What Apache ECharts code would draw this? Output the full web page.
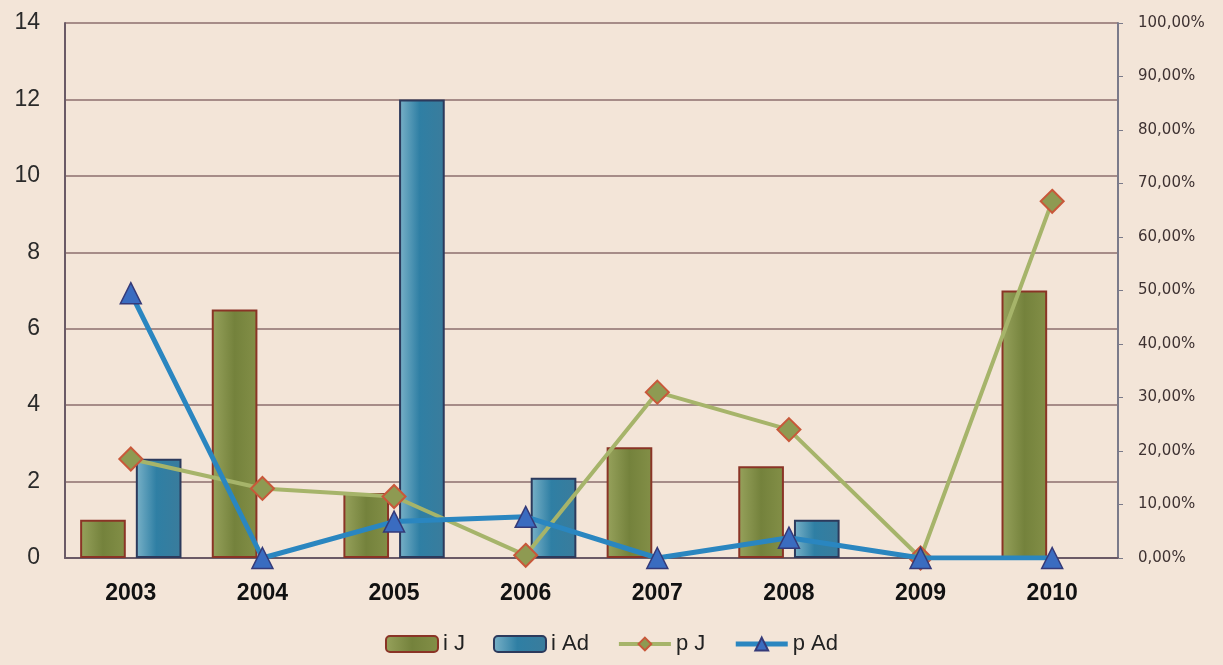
<!DOCTYPE html>
<html>
<head>
<meta charset="utf-8">
<title>i J / i Ad / p J / p Ad</title>
<script src="https://cdn.jsdelivr.net/npm/echarts@6/dist/echarts.min.js"></script>
<style>
  html, body { margin: 0; padding: 0; background: #f3e5d8; }
  #chart { width: 1223px; height: 665px; }
</style>
</head>
<body>
<div id="chart"></div>
<script>
// Years on the category axis
const years = ['2003', '2004', '2005', '2006', '2007', '2008', '2009', '2010'];

// Counts (left axis); null = no bar for that year
const iJ  = [1, 6.5, 1.7, null, 2.9, 2.4, null, 7];
const iAd = [2.6, null, 12, 2.1, null, 1, null, null];

// Shares (right axis, 0..1)
const pJ  = [0.185, 0.13, 0.115, 0.005, 0.31, 0.24, 0.0, 0.6667];
const pAd = [0.495, 0.0, 0.068, 0.077, 0.0, 0.038, 0.0, 0.0];

// Left axis ticks 0..14 step 2, right axis 0%..100% step 10%
const leftMax = 14, leftStep = 2;
const rightMax = 1, rightStep = 0.1;

const chart = echarts.init(document.getElementById('chart'));

const greenFill = new echarts.graphic.LinearGradient(0, 0, 1, 0, [
  { offset: 0, color: '#97a25c' },
  { offset: 0.5, color: '#74823c' },
  { offset: 1, color: '#838f47' }
]);
const blueFill = new echarts.graphic.LinearGradient(0, 0, 1, 0, [
  { offset: 0, color: '#7ab2c8' },
  { offset: 0.45, color: '#2f7fa4' },
  { offset: 1, color: '#3a7c9c' }
]);

chart.setOption({
  backgroundColor: '#f3e5d8',
  animation: false,
  grid: { left: 65, right: 105, top: 23, bottom: 107 },
  legend: {
    bottom: 5,
    left: 'center',
    itemWidth: 52,
    itemHeight: 16,
    itemGap: 28,
    textStyle: { fontFamily: 'Liberation Sans, Arial, sans-serif', fontSize: 22, color: '#222' },
    data: [
      { name: 'i J' },
      { name: 'i Ad' },
      { name: 'p J', lineStyle: { width: 4 } },
      { name: 'p Ad', lineStyle: { width: 5 } }
    ]
  },
  xAxis: {
    type: 'category',
    data: years,
    axisLine: { show: true, lineStyle: { color: '#6a5a66', width: 2 } },
    axisTick: { show: false },
    axisLabel: {
      margin: 24,
      fontFamily: 'Liberation Sans, Arial, sans-serif',
      fontSize: 23,
      fontWeight: 'bold',
      color: '#111'
    }
  },
  yAxis: [
    {
      type: 'value',
      min: 0,
      max: leftMax,
      interval: leftStep,
      axisLine: { show: true, lineStyle: { color: '#6a5a66', width: 2 } },
      axisTick: { show: false },
      splitLine: { show: true, lineStyle: { color: '#8c6e6e', width: 1.5 } },
      axisLabel: {
        margin: 25,
        fontFamily: 'Liberation Sans, Arial, sans-serif',
        fontSize: 23,
        color: '#2a2a2a'
      }
    },
    {
      type: 'value',
      min: 0,
      max: rightMax,
      interval: rightStep,
      position: 'right',
      axisLine: { show: true, lineStyle: { color: '#7a7a8a', width: 2 } },
      axisTick: { show: true, length: 5, lineStyle: { color: '#7a7a8a' } },
      splitLine: { show: false },
      axisLabel: {
        margin: 20,
        fontFamily: 'DejaVu Sans, Verdana, sans-serif',
        fontSize: 15,
        color: '#3e3232',
        formatter: v => (v * 100).toFixed(2).replace('.', ',') + '%'
      }
    }
  ],
  series: [
    {
      name: 'i J',
      type: 'bar',
      data: iJ,
      barGap: '22%',
      barCategoryGap: '23%',
      itemStyle: { color: greenFill, borderColor: '#8a3426', borderWidth: 2 }
    },
    {
      name: 'i Ad',
      type: 'bar',
      data: iAd,
      itemStyle: { color: blueFill, borderColor: '#2c3a5c', borderWidth: 2 }
    },
    {
      name: 'p J',
      type: 'line',
      yAxisIndex: 1,
      data: pJ,
      symbol: 'diamond',
      symbolSize: 23,
      lineStyle: { color: '#a6b46a', width: 4 },
      itemStyle: { color: '#8e9a52', borderColor: '#c8583a', borderWidth: 2 },
      z: 3
    },
    {
      name: 'p Ad',
      type: 'line',
      yAxisIndex: 1,
      data: pAd,
      symbol: 'triangle',
      symbolSize: 21,
      lineStyle: { color: '#2a86c0', width: 5 },
      itemStyle: { color: '#3a6cc0', borderColor: '#353a78', borderWidth: 1.5 },
      z: 4
    }
  ]
});
</script>
</body>
</html>
